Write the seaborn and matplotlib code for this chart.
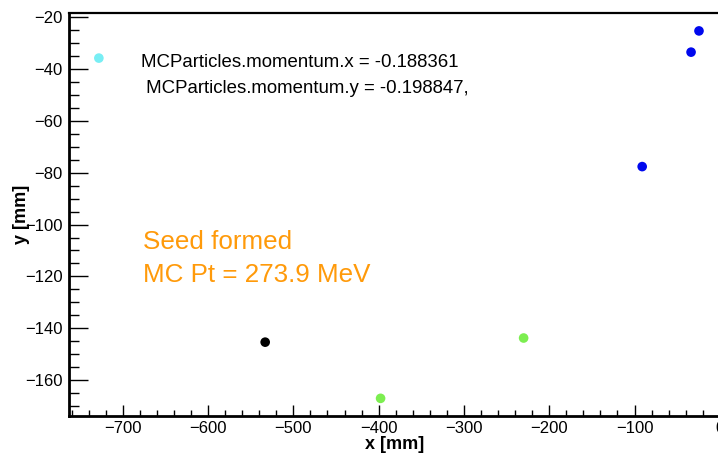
import matplotlib
matplotlib.use("Agg")
import matplotlib.pyplot as plt
from matplotlib.ticker import MultipleLocator
import seaborn as sns
import pandas as pd

# data
x_mm = [-728.0, -24.4, -33.7, -91.0, -533.0, -397.7, -230.0]
y_mm = [-35.7, -25.2, -33.4, -77.6, -145.4, -167.1, -143.8]
group = ["cyan", "blue", "blue", "blue", "black", "green", "green"]
palette = {"cyan": "#78eef4", "blue": "#0008ee", "black": "#000000", "green": "#7cee50"}

info_lines = ["MCParticles.momentum.x = -0.188361", " MCParticles.momentum.y = -0.198847,"]
seed_lines = ["Seed formed", "MC Pt = 273.9 MeV"]

sns.set_style("ticks", {"axes.edgecolor": "black", "text.color": "black",
                        "xtick.color": "black", "ytick.color": "black",
                        "axes.labelcolor": "black"})
plt.rcParams["font.family"] = ["Liberation Sans", "DejaVu Sans"]

W, H = 718, 455
fig = plt.figure(figsize=(W / 100, H / 100), dpi=100)
ax_left, ax_right, ax_top, ax_bottom = 69, 719.8, 13.3, 415.7
ax = fig.add_axes([ax_left / W, 1 - ax_bottom / H, (ax_right - ax_left) / W, (ax_bottom - ax_top) / H])

df = pd.DataFrame({"x": x_mm, "y": y_mm, "g": group})
sns.scatterplot(data=df, x="x", y="y", hue="g", palette=palette, s=48, edgecolor="none",
                legend=False, ax=ax, zorder=3)

ax.set_xlim(-763, 0)
ax.set_ylim(-173.8, -18.4)
ax.xaxis.set_major_locator(MultipleLocator(100))
ax.xaxis.set_minor_locator(MultipleLocator(20))
ax.yaxis.set_major_locator(MultipleLocator(20))
ax.yaxis.set_minor_locator(MultipleLocator(5))

ax.tick_params(axis="y", which="major", direction="in", length=13.5, width=1.0, labelsize=12, pad=4.5)
ax.tick_params(axis="y", which="minor", direction="in", length=7, width=1.0)
ax.tick_params(axis="x", which="major", direction="in", length=8, width=1.0, labelsize=12, pad=4)
ax.tick_params(axis="x", which="minor", direction="in", length=4, width=1.0)

for side in ["left", "bottom"]:
    ax.spines[side].set_linewidth(2.0)
ax.spines["top"].set_linewidth(1.6)
ax.spines["right"].set_linewidth(1.6)
ax.set_xticklabels([f"{int(v)}".replace("-", "\u2212") for v in ax.get_xticks()])

ax.set_xlabel("x [mm]", fontsize=13, fontweight="bold", labelpad=0)
ax.set_ylabel("y [mm]", fontsize=13, fontweight="bold")
ax.yaxis.set_label_coords(-0.060, 0.5)

ax.text(-678.5, -37.3, info_lines[0], fontsize=13.4, va="center", ha="left")
ax.text(-678.5, -47.6, info_lines[1], fontsize=13.4, va="center", ha="left")
ax.text(-676.3, -109.3, seed_lines[0], fontsize=18.7, va="baseline", ha="left", color="#ff9a0a")
ax.text(-676.3, -122.1, seed_lines[1], fontsize=18.7, va="baseline", ha="left", color="#ff9a0a")

fig.savefig("out.png", dpi=100)
